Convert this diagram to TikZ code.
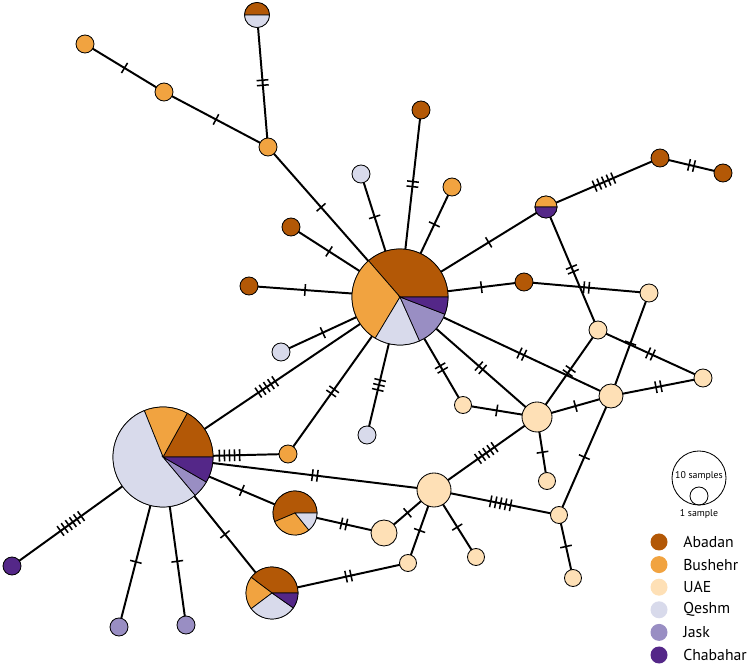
\documentclass[tikz,border=0pt]{standalone}
\usepackage{fontspec}
\setmainfont{PT Sans}
\usetikzlibrary{decorations.markings}
\definecolor{cAbadan}{HTML}{B35806}
\definecolor{cBushehr}{HTML}{F1A340}
\definecolor{cUAE}{HTML}{FEE0B6}
\definecolor{cQeshm}{HTML}{D8DAEB}
\definecolor{cJask}{HTML}{998EC3}
\definecolor{cChabahar}{HTML}{542788}
% one wedge of a pie: node, radius, start, end, colour
\newcommand{\pieslice}[5]{\filldraw[fill=#5, draw=black, line width=0.5pt] (#1.center) -- ++(#3:#2) arc (#3:#4:#2) -- cycle;}

\begin{document}
\begin{tikzpicture}[x=0.025cm, y=0.025cm,
    hap/.style={circle, draw=black, line width=0.6pt, inner sep=0pt, outer sep=0pt, minimum size=#1*0.5mm},
    link/.style={line width=1.4pt},
    mutat/.style 2 args={postaction={decorate, decoration={markings, mark=at position #2 with {
      \foreach \k in {1,...,#1} {\draw[line width=1.1pt] ({(\k-0.5-#1/2)*3.6pt},-4.2pt) -- ++(0,8.4pt);}}}}},
    mut/.style={mutat={#1}{0.5}}]
    \useasboundingbox (0,0) rectangle (753,668);

    % pie haplotypes (filled afterwards)
    \node[hap=48] (A) at (400,371) {};
    \node[hap=50] (B) at (163,211) {};
    \node[hap=22] (C) at (295,155) {};
    \node[hap=26] (D) at (272,75) {};
    \node[hap=12.5] (E) at (257,653) {};
    \node[hap=11] (F) at (546,461) {};

    % Abadan
    \node[hap=9, fill=cAbadan] (ab1) at (421,558) {};
    \node[hap=9, fill=cAbadan] (ab2) at (291,441) {};
    \node[hap=9, fill=cAbadan] (ab3) at (249,382) {};
    \node[hap=9, fill=cAbadan] (ab4) at (660,510) {};
    \node[hap=9, fill=cAbadan] (ab5) at (723,495) {};
    \node[hap=9, fill=cAbadan] (ab6) at (524,386) {};
    % Bushehr
    \node[hap=9, fill=cBushehr] (bu1) at (85,624) {};
    \node[hap=9, fill=cBushehr] (bu2) at (164,576) {};
    \node[hap=9, fill=cBushehr] (bu3) at (268,521) {};
    \node[hap=9, fill=cBushehr] (bu4) at (452,481) {};
    \node[hap=9, fill=cBushehr] (bu5) at (288,214) {};
    % Qeshm, Jask, Chabahar
    \node[hap=9, fill=cQeshm] (qe1) at (361,494) {};
    \node[hap=9, fill=cQeshm] (qe2) at (281,316) {};
    \node[hap=9, fill=cQeshm] (qe3) at (367,233) {};
    \node[hap=9, fill=cJask] (ja1) at (119,41) {};
    \node[hap=9, fill=cJask] (ja2) at (186,43) {};
    \node[hap=9, fill=cChabahar] (ch1) at (12,102) {};
    % UAE
    \node[hap=9, fill=cUAE] (ua1) at (598,338) {};
    \node[hap=9, fill=cUAE] (ua2) at (649,375) {};
    \node[hap=9, fill=cUAE] (ua3) at (703,290) {};
    \node[hap=12, fill=cUAE] (ua4) at (611,272) {};
    \node[hap=15, fill=cUAE] (ua5) at (537,251) {};
    \node[hap=8.5, fill=cUAE] (ua6) at (463,263) {};
    \node[hap=8.5, fill=cUAE] (ua7) at (547,187) {};
    \node[hap=17, fill=cUAE] (ua8) at (434,178) {};
    \node[hap=8.5, fill=cUAE] (ua9) at (559,153) {};
    \node[hap=13, fill=cUAE] (ua10) at (384,135) {};
    \node[hap=8.5, fill=cUAE] (ua11) at (476,111) {};
    \node[hap=8.5, fill=cUAE] (ua12) at (408,105) {};
    \node[hap=8.5, fill=cUAE] (ua13) at (573,90) {};

    % connections, ticks = mutation steps
    \draw[link, mut=1] (bu1) -- (bu2);
    \draw[link, mut=1] (bu2) -- (bu3);
    \draw[link, mut=2] (E) -- (bu3);
    \draw[link, mut=1] (bu3) -- (A);
    \draw[link, mut=2] (ab1) -- (A);
    \draw[link, mut=1] (bu4) -- (A);
    \draw[link, mut=1] (qe1) -- (A);
    \draw[link, mut=1] (ab2) -- (A);
    \draw[link, mut=1] (ab3) -- (A);
    \draw[link, mut=1] (qe2) -- (A);
    \draw[link, mut=3] (qe3) -- (A);
    \draw[link, mut=2] (bu5) -- (A);
    \draw[link, mutat={5}{0.4}] (B) -- (A);
    \draw[link, mutat={5}{0.25}] (B) -- (bu5);
    \draw[link, mut=1] (A) -- (F);
    \draw[link, mut=5] (F) -- (ab4);
    \draw[link, mut=2] (ab4) -- (ab5);
    \draw[link, mut=2] (F) -- (ua1);
    \draw[link, mut=1] (A) -- (ab6);
    \draw[link, mut=2] (ab6) -- (ua2);
    \draw[link, mut=2] (A) -- (ua6);
    \draw[link, mut=2] (A) -- (ua5);
    \draw[link, mut=2] (A) -- (ua4);
    \draw[link, mut=1] (ua6) -- (ua5);
    \draw[link, mut=1] (ua5) -- (ua4);
    \draw[link, mut=1] (ua5) -- (ua7);
    \draw[link, mut=2] (ua5) -- (ua1);
    \draw[link, mut=1] (ua4) -- (ua2);
    \draw[link, mut=2] (ua1) -- (ua3);
    \draw[link, mut=2] (ua4) -- (ua3);
    \draw[link, mut=5] (ua8) -- (ua5);
    \draw[link, mut=5] (ua8) -- (ua9);
    \draw[link, mut=1] (ua4) -- (ua9);
    \draw[link, mut=1] (ua9) -- (ua13);
    \draw[link, mut=2] (B) -- (ua8);
    \draw[link, mut=1] (B) -- (C);
    \draw[link, mut=1] (B) -- (D);
    \draw[link, mut=1] (B) -- (ja1);
    \draw[link, mut=1] (B) -- (ja2);
    \draw[link, mut=6] (ch1) -- (B);
    \draw[link, mut=2] (C) -- (ua10);
    \draw[link, mut=2] (D) -- (ua12);
    \draw[link, mut=1] (ua8) -- (ua10);
    \draw[link, mut=1] (ua8) -- (ua12);
    \draw[link, mut=1] (ua8) -- (ua11);

    % pie wedges
    \pieslice{A}{48}{0}{131}{cAbadan}
    \pieslice{A}{48}{131}{239}{cBushehr}
    \pieslice{A}{48}{239}{294}{cQeshm}
    \pieslice{A}{48}{294}{339}{cJask}
    \pieslice{A}{48}{339}{360}{cChabahar}
    \pieslice{B}{50}{0}{61}{cAbadan}
    \pieslice{B}{50}{61}{112}{cBushehr}
    \pieslice{B}{50}{112}{310}{cQeshm}
    \pieslice{B}{50}{310}{330}{cJask}
    \pieslice{B}{50}{330}{360}{cChabahar}
    \pieslice{C}{22}{0}{203}{cAbadan}
    \pieslice{C}{22}{203}{309}{cBushehr}
    \pieslice{C}{22}{309}{360}{cQeshm}
    \pieslice{D}{26}{0}{143}{cAbadan}
    \pieslice{D}{26}{143}{217}{cBushehr}
    \pieslice{D}{26}{217}{325}{cQeshm}
    \pieslice{D}{26}{325}{360}{cChabahar}
    \pieslice{E}{12.5}{0}{180}{cAbadan}
    \pieslice{E}{12.5}{180}{360}{cQeshm}
    \pieslice{F}{11}{0}{180}{cBushehr}
    \pieslice{F}{11}{180}{360}{cChabahar}

    % size key
    \node[hap=27] (key10) at (699,190) {};
    \node[hap=9] (key1) at (699,172) {};
    \node[font=\fontsize{7}{8}\selectfont] (key10txt) at (699,192) {10 samples};
    \node[font=\fontsize{7}{8}\selectfont] (key1txt) at (699,154) {1 sample};

    % legend
    \foreach \pop/\col [count=\i] in {Abadan/cAbadan, Bushehr/cBushehr, UAE/cUAE, Qeshm/cQeshm, Jask/cJask, Chabahar/cChabahar} {
      \node[hap=8.5, fill=\col, draw=none] (dot\i) at (659,{126-22.6*(\i-1)}) {};
      \node[anchor=west, inner sep=0pt, font=\fontsize{11.2}{13}\selectfont] (name\i) at (683,{126-22.6*(\i-1)}) {\pop};
    }
\end{tikzpicture}
\end{document}
